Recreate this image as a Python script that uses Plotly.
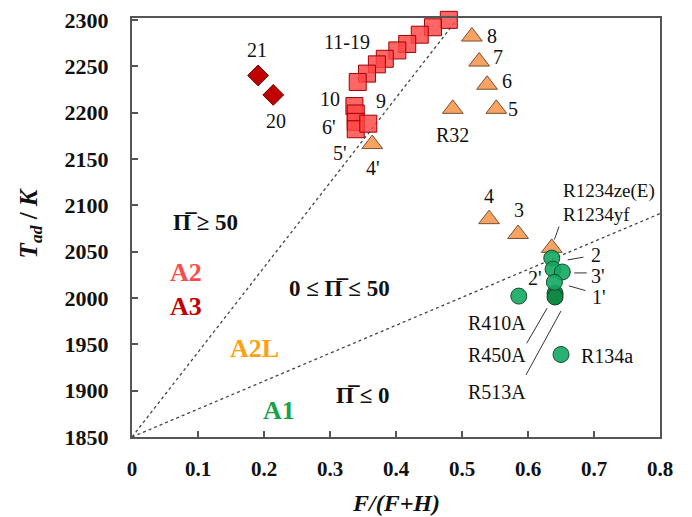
import plotly.graph_objects as go

# ---------------- data ----------------
# A2/A3 (squares, red): 11-19, 10, 6', 5', 9
sq_x = [0.480, 0.456, 0.436, 0.417, 0.402, 0.383, 0.371, 0.356, 0.342,
        0.337, 0.339, 0.339, 0.339, 0.358]
sq_y = [2300, 2292, 2284, 2274, 2267, 2258, 2252, 2242, 2233,
        2207, 2199, 2190, 2182, 2188]
# A3 (diamonds, dark red): 21, 20
dm_x = [0.191, 0.214]
dm_y = [2240, 2219]
# A2L (triangles, orange): 8, 7, 6, 5, R32, 4', 4, 3, R1234ze(E)/yf
tr_x = [0.515, 0.526, 0.538, 0.552, 0.486, 0.364, 0.541, 0.585, 0.636]
tr_y = [2282, 2255, 2230, 2204, 2204, 2166, 2085, 2069, 2054]
# A1 (circles, green): 2, 2', 3', ..., R410A, R134a
ci_x = [0.636, 0.638, 0.652, 0.640, 0.586, 0.650]
ci_y = [2043, 2031, 2028, 2017, 2002, 1939]
# A1 darker circles (1')
cd_x = [0.641, 0.641]
cd_y = [2005, 2001]

# boundary lines through origin
bound_x = [[0.0, 0.492], [0.0, 0.8]]
bound_y = [[1850, 2300], [1850, 2091]]

# point labels: (text, x, y)
labels = [
    ("11-19", 0.326, 2276), ("10", 0.300, 2215), ("9", 0.377, 2213),
    ("6'", 0.298, 2184), ("5'", 0.315, 2156), ("4'", 0.365, 2140),
    ("21", 0.189, 2267), ("20", 0.218, 2191),
    ("8", 0.545, 2283), ("7", 0.555, 2260), ("6", 0.568, 2234),
    ("5", 0.577, 2204), ("R32", 0.486, 2176),
    ("4", 0.541, 2110), ("3", 0.586, 2095),
    ("2", 0.703, 2046), ("3'", 0.706, 2024), ("1'", 0.707, 2001),
    ("2'", 0.611, 2021),
    ("R410A", 0.553, 1973), ("R450A", 0.553, 1938), ("R513A", 0.553, 1899),
    ("R134a", 0.719, 1937),
]
left_labels = [("R1234ze(E)", 0.650, 2115), ("R1234yf", 0.650, 2090)]

# leader segments: x0, y0, x1, y1
leaders = [
    (0.647, 2077, 0.640, 2063),
    (0.660, 2041, 0.684, 2044),
    (0.670, 2027, 0.689, 2027),
    (0.662, 2013, 0.687, 2008),
    (0.629, 1989, 0.598, 1951),
    (0.650, 1986, 0.597, 1917),
]

# region labels: (text, x, y, colour, size)
PI = "\u03a0\u0305"
regions = [
    (PI + " \u2265 50", 0.111, 2081, "#111111", 23),
    ("A2", 0.082, 2027, "#ff4b4b", 26),
    ("A3", 0.082, 1991, "#c00000", 26),
    ("0 \u2264 " + PI + " \u2264 50", 0.315, 2010, "#111111", 23),
    ("A2L", 0.186, 1946, "#ffa010", 26),
    (PI + " \u2264 0", 0.350, 1895, "#111111", 23),
    ("A1", 0.223, 1879, "#16a34a", 26),
]

SERIF = "Liberation Serif"

fig = go.Figure()

for bx, by in zip(bound_x, bound_y):
    fig.add_trace(go.Scatter(x=bx, y=by, mode="lines",
                             line=dict(color="#444444", width=1.3, dash="3px,3px"),
                             hoverinfo="skip", showlegend=False))

fig.add_trace(go.Scatter(x=dm_x, y=dm_y, mode="markers", cliponaxis=False,
                         marker=dict(symbol="diamond", size=16, color="#c00000",
                                     line=dict(color="#6a0000", width=1)),
                         showlegend=False))
fig.add_trace(go.Scatter(x=tr_x, y=tr_y, mode="markers", cliponaxis=False,
                         marker=dict(symbol="triangle-up", size=18, color="#f8a263",
                                     line=dict(color="#7a5030", width=1)),
                         showlegend=False))
fig.add_trace(go.Scatter(x=sq_x, y=sq_y, mode="markers", cliponaxis=False,
                         marker=dict(symbol="square", size=17, color="rgba(255,70,70,0.82)",
                                     line=dict(color="#a00000", width=1)),
                         showlegend=False))
fig.add_trace(go.Scatter(x=cd_x, y=cd_y, mode="markers", cliponaxis=False,
                         marker=dict(symbol="circle", size=16, color="#0e8a45",
                                     line=dict(color="#1a3a28", width=1)),
                         showlegend=False))
fig.add_trace(go.Scatter(x=ci_x, y=ci_y, mode="markers", cliponaxis=False,
                         marker=dict(symbol="circle", size=16, color="rgba(18,168,96,0.9)",
                                     line=dict(color="#1a4a30", width=1)),
                         showlegend=False))

for x0, y0, x1, y1 in leaders:
    fig.add_shape(type="line", x0=x0, y0=y0, x1=x1, y1=y1,
                  line=dict(color="#333333", width=1))

for t, x, y in labels:
    fig.add_annotation(x=x, y=y, text=t, showarrow=False,
                       font=dict(family=SERIF, size=20, color="#111111"))
for t, x, y in left_labels:
    fig.add_annotation(x=x, y=y, text=t, showarrow=False, xanchor="left",
                       font=dict(family=SERIF, size=19, color="#111111"))
for t, x, y, c, s in regions:
    fig.add_annotation(x=x, y=y, text="<b>" + t + "</b>", showarrow=False,
                       font=dict(family=SERIF, size=s, color=c))

# axis titles
fig.add_annotation(xref="paper", yref="paper", x=0.5, y=-0.158, yanchor="middle",
                   text="<b><i>F/(F+H)</i></b>", showarrow=False,
                   font=dict(family=SERIF, size=24, color="#111111"))
fig.add_annotation(xref="paper", yref="paper", x=-0.193, y=0.51, xanchor="center",
                   yanchor="middle", textangle=-90,
                   text="<b><i>T<sub>ad</sub></i> / <i>K</i></b>", showarrow=False,
                   font=dict(family=SERIF, size=25, color="#111111"))

axis_common = dict(showgrid=False, zeroline=False, showline=True, mirror=True,
                   linecolor="#555555", linewidth=2, ticks="inside", ticklen=6,
                   tickcolor="#555555", tickwidth=1.5, automargin=False,
                   ticklabeloverflow="allow")

xt = [0, 0.1, 0.2, 0.3, 0.4, 0.5, 0.6, 0.7, 0.8]
fig.update_xaxes(range=[0, 0.8], tickvals=xt, ticklabelstandoff=12,
                 ticktext=["<b>%g</b>" % v for v in xt],
                 tickfont=dict(family=SERIF, size=21, color="#111111"),
                 **axis_common)
yt = [1850, 1900, 1950, 2000, 2050, 2100, 2150, 2200, 2250, 2300]
fig.update_yaxes(range=[1850, 2302], tickvals=yt, ticklabelstandoff=17,
                 ticktext=["<b>%d</b>" % v for v in yt],
                 tickfont=dict(family=SERIF, size=22, color="#111111"),
                 **axis_common)

fig.update_layout(width=684, height=509, plot_bgcolor="white", paper_bgcolor="white",
                  margin=dict(l=124, r=32, t=10, b=80, autoexpand=False), showlegend=False)

fig.write_html("out.html")
